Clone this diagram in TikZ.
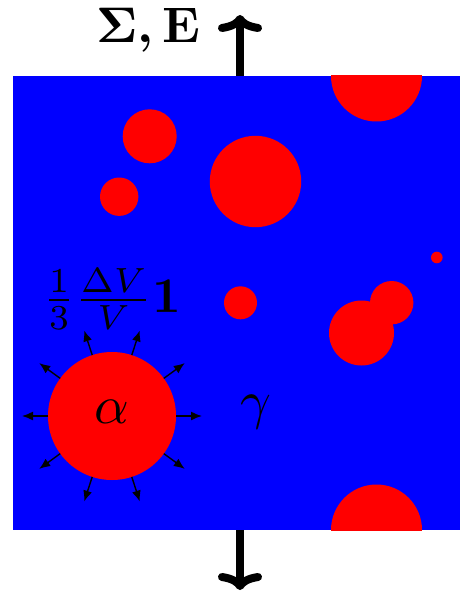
\documentclass[tikz,border=0pt]{standalone}
\usepackage{graphicx}
\usepackage{amsmath}
\usetikzlibrary{arrows.meta,calc}
\newcommand{\bigtxt}[2][5]{\scalebox{#1}{\normalsize #2}}
\begin{document}
\begin{tikzpicture}[x=1pt,y=-1pt,
  ball/.style={circle,fill=red,inner sep=0pt,outer sep=0pt,minimum size=#1},
  lbl/.style={inner sep=0pt,anchor=base},
  flux/.style={line width=1.4pt,-{Latex[length=11pt,width=9pt]}},
  load/.style={line width=8pt,-{Computer Modern Rightarrow[length=17pt,width=44pt]}}]
\useasboundingbox (0,0) rectangle (460,591);
\node[fill=blue,inner sep=0pt,outer sep=0pt,minimum width=447pt,minimum height=454pt,anchor=north west] (box) at (13,76) {};
\begin{scope}
  \clip (box.south west) rectangle (box.north east);
  \node[ball=91pt] (ctop) at (376.5,76) {};
  \node[ball=91pt] (cbot) at (376.5,530) {};
\end{scope}
\node[ball=54pt] (c1) at (149.7,136.3) {};
\node[ball=38.4pt] (c2) at (119.2,196.7) {};
\node[ball=91.4pt] (c3) at (255.5,181.5) {};
\node[ball=11.6pt] (c4) at (436.8,257.5) {};
\node[ball=33pt] (c5) at (240.5,302.8) {};
\node[ball=43.4pt] (c6) at (391.7,302.7) {};
\node[ball=65pt] (c7) at (361.5,333) {};
\node[ball=128pt] (alpha) at (112,416) {};
\foreach \a in {0,36,...,324}
  \draw[flux] (alpha.\a) -- ($(alpha.center)!90pt!(alpha.\a)$);
\coordinate (topend) at (240,15);
\coordinate (botend) at (240,590);
\draw[load] (box.north -| topend) -- (topend);
\draw[load] (box.south -| botend) -- (botend);
\node[lbl] (sig) at (148,43) {\bigtxt{$\mathbf{\Sigma}\mathpunct{\boldsymbol{,}}\mathbf{E}$}};
\node[lbl] (dil) at (112,312.5) {\bigtxt{$\frac{1}{3}\frac{\Delta V}{V}\mathbf{1}$}};
\node[lbl] (alab) at (112,423.5) {\bigtxt[5.4]{$\alpha$}};
\node[lbl] (glab) at (256,418) {\bigtxt[5.4]{$\gamma$}};
\end{tikzpicture}
\end{document}
